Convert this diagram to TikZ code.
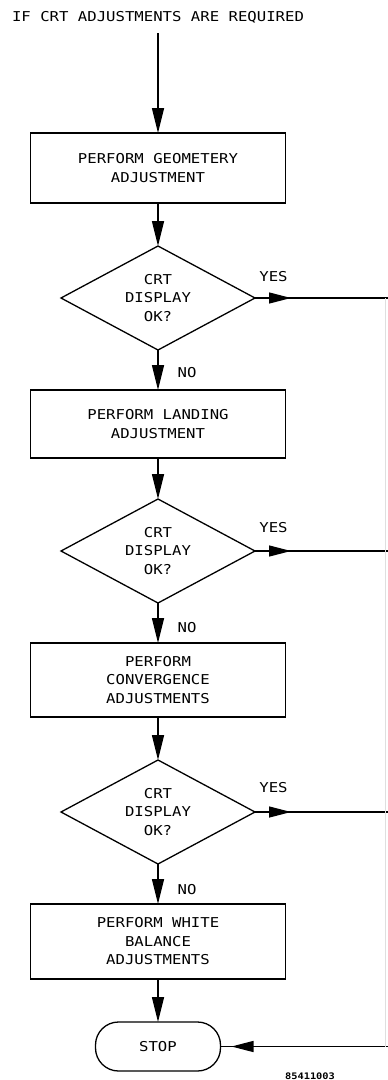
\documentclass[tikz,border=0pt]{standalone}
\usepackage{fontspec}
\newfontfamily\plotfont[FakeStretch=1.15]{DejaVu Sans Mono}
\usetikzlibrary{arrows.meta,shapes.geometric,decorations.markings}
\tikzset{
  base/.style={font={\plotfont\fontsize{13.6}{18.5}\selectfont}, align=center, inner sep=0pt, outer sep=0pt},
  procbox/.style={base, draw, line width=1.3pt, minimum width=255pt, minimum height=#1},
  decision/.style={base, draw, diamond, aspect=1.87, line width=1.3pt, minimum width=194pt, minimum height=104pt},
  terminal/.style={base, draw, rounded corners=23pt, line width=1.3pt, minimum width=125pt, minimum height=49pt},
  lbl/.style={base},
  fignum/.style={font={\plotfont\bfseries\fontsize{9}{10}\selectfont}, inner sep=0pt},
  flow/.style={line width=1.3pt, -{Triangle[length=25pt,width=12pt]}},
  midflow/.style={line width=1.3pt, postaction={decorate},
    decoration={markings, mark=at position #1 with {\arrow{Triangle[length=22pt,width=11pt]}}}},
  bus/.style={gray!25, line width=0.6pt},
}
\begin{document}
\begin{tikzpicture}[x=1pt,y=-1pt]
\useasboundingbox (0,0) rectangle (388,1080);
\node[lbl] (title) at (158,17) {IF CRT ADJUSTMENTS ARE REQUIRED};
\coordinate (start) at (158,33);
\node[procbox=70pt] (b1) at (158,168) {PERFORM GEOMETERY\\ADJUSTMENT};
\node[decision] (d1) at (158,298) {CRT\\DISPLAY\\OK?};
\node[procbox=68pt] (b2) at (158,424) {PERFORM LANDING\\ADJUSTMENT};
\node[decision] (d2) at (158,551) {CRT\\DISPLAY\\OK?};
\node[procbox=74pt] (b3) at (158,680) {PERFORM\\CONVERGENCE\\ADJUSTMENTS};
\node[decision] (d3) at (158,812) {CRT\\DISPLAY\\OK?};
\node[procbox=75pt] (b4) at (158,941.5) {PERFORM WHITE\\BALANCE\\ADJUSTMENTS};
\node[terminal] (stop) at (158,1046.5) {STOP};
\coordinate (r1) at (388,298);
\coordinate (r2) at (388,551);
\coordinate (r3) at (388,812);
\coordinate (r4) at (388,1046.5);
\coordinate (v1) at (385,298);
\coordinate (v4) at (385,1046.5);
% labels
\node[lbl] (yes1) at (273.5,277) {YES};
\node[lbl] (yes2) at (273.5,528) {YES};
\node[lbl] (yes3) at (273.5,788) {YES};
\node[lbl] (no1) at (187,373) {NO};
\node[lbl] (no2) at (187,628) {NO};
\node[lbl] (no3) at (187,890) {NO};
\node[fignum] (fig) at (310,1076) {85411003};
% connectors
\draw[flow] (start) -- (b1.north);
\draw[flow] (b1.south) -- (d1.north);
\draw[flow] (d1.south) -- (b2.north);
\draw[flow] (b2.south) -- (d2.north);
\draw[flow] (d2.south) -- (b3.north);
\draw[flow] (b3.south) -- (d3.north);
\draw[flow] (d3.south) -- (b4.north);
\draw[flow] (b4.south) -- (stop.north);
\draw[midflow=36pt] (d1.east) -- (r1);
\draw[midflow=36pt] (d2.east) -- (r2);
\draw[midflow=36pt] (d3.east) -- (r3);
\draw[midflow=-11pt] (r4) -- (stop.east);
\draw[bus] (v1) -- (v4);
\end{tikzpicture}
\end{document}
